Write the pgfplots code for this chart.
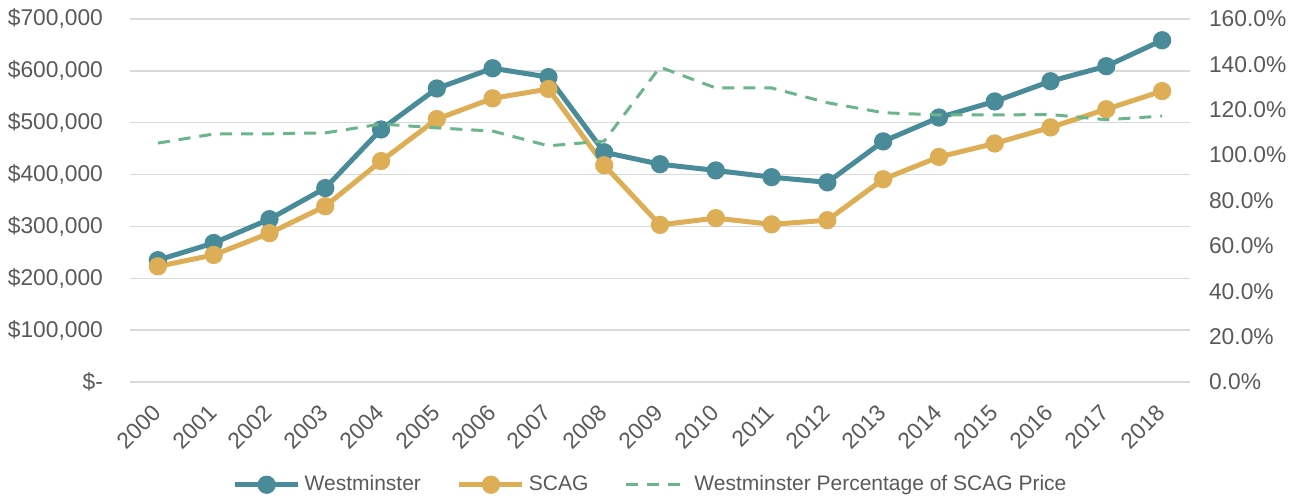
\documentclass[border=0pt]{standalone}
\usepackage{pgfplots}
\pgfplotsset{compat=1.18}
\usepackage{pgfplotstable}
\usepackage{fontspec}
\setmainfont{Liberation Sans}

\definecolor{westc}{HTML}{4A8B9A}
\definecolor{scagc}{HTML}{DDAE55}
\definecolor{pctc}{HTML}{6BB58A}
\definecolor{gridc}{HTML}{D9D9D9}
\definecolor{txtc}{HTML}{595959}

% year index (0 = 2000), Westminster, SCAG, percentage
\pgfplotstableread{
x west scag pct
0 235000 223000 105.3
1 268000 245000 109.3
2 314000 287000 109.4
3 374000 339000 109.8
4 487000 426000 113.7
5 566000 507000 112.0
6 605000 547000 110.6
7 588000 565000 104.1
8 443000 418000 106.2
9 420000 303000 138.8
10 408000 316000 129.6
11 395000 304000 129.6
12 385000 312000 123.1
13 464000 391000 118.7
14 510000 434000 117.7
15 541000 460000 117.7
16 580000 491000 117.9
17 609000 526000 115.6
18 659000 561000 117.2
}\data

\tikzset{
  westline/.style={color=westc, line width=2.5pt, mark=*, mark size=3.3pt, mark options={solid}},
  scagline/.style={color=scagc, line width=2.5pt, mark=*, mark size=3.3pt, mark options={solid}},
  pctline/.style={color=pctc, line width=1.5pt, dash pattern=on 6pt off 4.5pt, mark=none},
}

\pgfplotsset{
  common/.style={
    scale only axis, width=530pt, height=181.5pt,
    xmin=-0.5, xmax=18.5,
    major tick length=0pt,
    scaled ticks=false,
    tick label style={font=\fontsize{11.4}{13}\selectfont, text=txtc},
  },
}

\begin{document}
\begin{tikzpicture}
\path[use as bounding box] (-65pt,-57.5pt) rectangle (583pt,191pt);
\begin{axis}[common,
  ymin=0, ymax=700000,
  axis line style={draw=none},
  ymajorgrids, grid style={gridc, line width=0.75pt},
  xtick={0,...,18},
  xticklabels={2000,2001,2002,2003,2004,2005,2006,2007,2008,2009,2010,2011,2012,2013,2014,2015,2016,2017,2018},
  xticklabel style={rotate=45, anchor=east, xshift=-6.3pt, yshift=-9pt},
  ytick={0,100000,...,700000},
  yticklabels={{\$-\hspace{4pt}},{\$100,000},{\$200,000},{\$300,000},{\$400,000},{\$500,000},{\$600,000},{\$700,000}},
  yticklabel style={xshift=-10pt},
]
\addplot[westline] table[x=x, y=west] {\data};
\addplot[scagline] table[x=x, y=scag] {\data};
\end{axis}
\begin{axis}[common,
  ymin=0, ymax=160,
  hide x axis,
  axis y line*=right,
  y axis line style={draw=none},
  ytick={0,20,...,160},
  yticklabels={0.0\%,20.0\%,40.0\%,60.0\%,80.0\%,100.0\%,120.0\%,140.0\%,160.0\%},
  yticklabel style={anchor=west, xshift=6pt},
  legend columns=3,
  legend style={at={(axis description cs:0.492,-0.283)}, anchor=center, draw=none,
    font=\fontsize{10.5}{12}\selectfont, text=txtc,
    /tikz/every even column/.append style={column sep=16pt},
    inner sep=0pt},
  legend cell align=left,
  legend image code/.code={\draw[mark repeat=2, mark phase=2, #1] plot coordinates {(0pt,0pt) (15.75pt,0pt) (31.5pt,0pt)};},
]
\addlegendimage{westline}
\addlegendentry{Westminster}
\addlegendimage{scagline}
\addlegendentry{SCAG}
\addplot[pctline] table[x=x, y=pct] {\data};
\addlegendentry{Westminster Percentage of SCAG Price}
\end{axis}
\end{tikzpicture}
\end{document}
